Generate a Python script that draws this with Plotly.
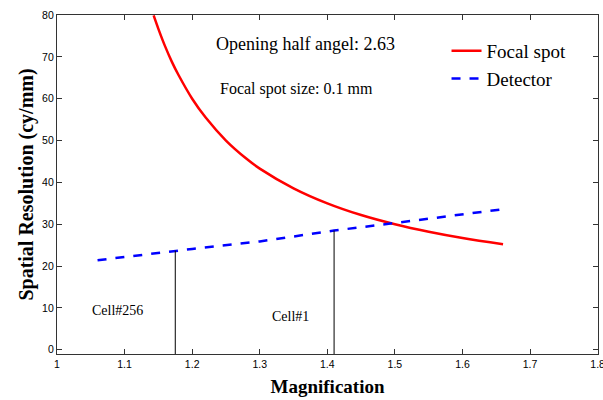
import plotly.graph_objects as go

# Focal spot resolution curve
focal_mag = [1.143, 1.15, 1.16, 1.17, 1.18, 1.2, 1.22, 1.25, 1.28, 1.3, 1.35, 1.4, 1.45, 1.5, 1.55, 1.6, 1.66]
focal_res = [79.9, 76.7, 72.5, 68.8, 65.6, 60.0, 55.5, 50.0, 45.7, 43.3, 38.6, 35.0, 32.2, 30.0, 28.2, 26.7, 25.2]

# Detector resolution curve
det_mag = [1.06, 1.1, 1.175, 1.2, 1.3, 1.41, 1.5, 1.6, 1.66]
det_res = [21.4, 22.2, 23.7, 24.1, 25.9, 28.5, 30.3, 32.4, 33.6]

# Cell markers
cell_names = ["Cell#256", "Cell#1"]
cell_mag = [1.175, 1.41]
cell_top = [23.7, 28.5]
cell_label_x = [1.09, 1.345]
cell_label_y = [9.3, 7.9]

x_ticks = [1, 1.1, 1.2, 1.3, 1.4, 1.5, 1.6, 1.7, 1.8]
x_tick_text = ["1", "1.1", "1.2", "1.3", "1.4", "1.5", "1.6", "1.7", "1.8"]
y_ticks = [0, 10, 20, 30, 40, 50, 60, 70, 80]

serif = "Liberation Serif, Times New Roman, serif"
sans = "Liberation Sans, Arial, sans-serif"

fig = go.Figure()
fig.add_trace(go.Scatter(x=focal_mag, y=focal_res, mode="lines", name="Focal spot",
                         line=dict(color="#ff0000", width=2.5, shape="spline")))
fig.add_trace(go.Scatter(x=det_mag, y=det_res, mode="lines", name="Detector",
                         line=dict(color="#0000ff", width=2.5, dash="dash")))
for xm, yt in zip(cell_mag, cell_top):
    fig.add_trace(go.Scatter(x=[xm, xm], y=[-1, yt], mode="lines", showlegend=False,
                             line=dict(color="black", width=1)))

for name, lx, ly in zip(cell_names, cell_label_x, cell_label_y):
    fig.add_annotation(x=lx, y=ly, text=name, showarrow=False,
                       font=dict(family=serif, size=14, color="black"))

fig.add_annotation(x=1.367, y=73.0, text="Opening half angel: 2.63", showarrow=False,
                   font=dict(family=serif, size=18, color="black"))
fig.add_annotation(x=1.354, y=62.4, text="Focal spot size: 0.1 mm", showarrow=False,
                   font=dict(family=serif, size=16, color="black"))

axis_common = dict(showline=True, linecolor="#333333", linewidth=1.2, mirror="ticks",
                   ticks="inside", ticklen=5, tickcolor="#333333", showgrid=False,
                   zeroline=False, automargin=False,
                   tickfont=dict(family=sans, size=10.5, color="black"))

fig.update_xaxes(range=[1, 1.8005], tickvals=x_ticks, ticktext=x_tick_text,
                 ticklabeloverflow="allow",
                 title=dict(text="<b>Magnification</b>", font=dict(family=serif, size=19, color="black"),
                            standoff=10),
                 **axis_common)
fig.update_yaxes(range=[-1, 80], tickvals=y_ticks,
                 title=dict(text="<b>Spatial Resolution (cy/mm)</b>",
                            font=dict(family=serif, size=20, color="black"), standoff=3),
                 **axis_common)

fig.update_layout(
    width=603, height=400,
    margin=dict(l=57, r=5, t=15, b=46),
    plot_bgcolor="white", paper_bgcolor="white",
    legend=dict(x=0.72, y=0.95, xanchor="left", yanchor="top", bgcolor="rgba(0,0,0,0)",
                font=dict(family=serif, size=19, color="black"), tracegroupgap=0),
)

fig.write_html("out.html", config={"displayModeBar": False},
               post_script="document.body.style.margin='0';document.body.style.overflow='hidden';")
